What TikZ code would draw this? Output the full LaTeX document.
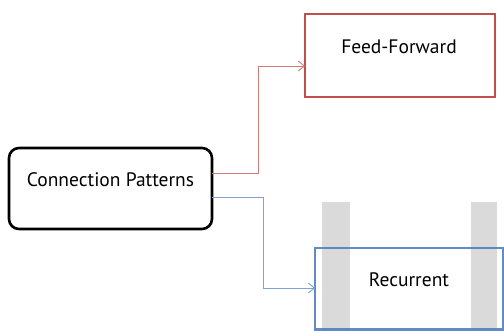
\documentclass[tikz,border=0pt]{standalone}
\usepackage{fontspec}
\setmainfont{PT Sans}
\usetikzlibrary{arrows.meta}
\definecolor{ffred}{HTML}{C0504D}
\definecolor{rcblue}{HTML}{4F81BD}
\definecolor{lnred}{HTML}{D27A78}
\definecolor{lnblue}{HTML}{7FA2D2}
\tikzset{
  lbl/.style={font=\fontsize{19.5}{22}\selectfont, text=black, inner sep=0pt},
  conn/.style={line width=0.9pt, -{Straight Barb[length=6pt,width=10pt,line width=0.9pt]}},
}
\begin{document}
\begin{tikzpicture}[x=1pt,y=-1pt]
\useasboundingbox (0,0) rectangle (504,330);
% Recurrent box
\path[fill=white] (315,248) rectangle (503,329);
\fill[black, fill opacity=0.145] (322,202) rectangle (350,330);
\fill[black, fill opacity=0.145] (471,202) rectangle (497,330);
\draw[rcblue, line width=2.6pt, draw opacity=0.9] (315,248) rectangle (503,329.5);
\coordinate (rc) at (315,288);
\node[lbl] (rct) at (409,280) {Recurrent};
% Feed-forward box
\draw[ffred, line width=2.6pt] (305,14) rectangle (495,97);
\coordinate (ff) at (305,66);
\node[lbl] (fft) at (399,47) {Feed-Forward};
% Connection patterns
\draw[black, line width=2.6pt, rounded corners=10pt] (9,148) rectangle (212,229);
\coordinate (cpr) at (212,173);
\coordinate (cpb) at (212,197);
\node[lbl] (cpt) at (110.5,180) {Connection Patterns};
% connectors
\draw[conn, lnred] (cpr) -| (258,66) -- (ff);
\draw[conn, lnblue] (cpb) -| (263,288) -- (rc);
\end{tikzpicture}
\end{document}
